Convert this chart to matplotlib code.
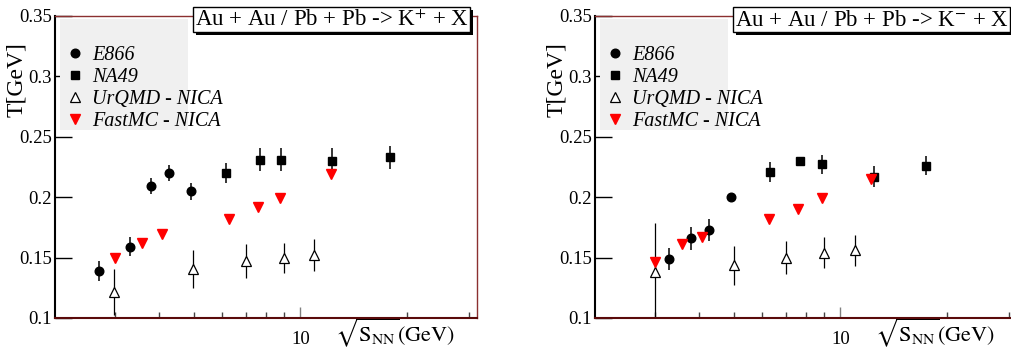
import matplotlib
matplotlib.use("Agg")
import matplotlib.pyplot as plt
from matplotlib.patches import Rectangle
from matplotlib.ticker import FixedLocator, NullFormatter

plt.rcParams["font.family"] = "Liberation Serif"
plt.rcParams["mathtext.fontset"] = "stix"

# ---- K+ (left panel) ----
e866_x_p = [2.70, 3.30, 3.78, 4.25, 4.90]
e866_y_p = [0.139, 0.159, 0.209, 0.220, 0.205]
e866_e_p = [0.008, 0.008, 0.0065, 0.007, 0.007]

na49_x_p = [6.15, 7.67, 8.84, 12.3, 17.9]
na49_y_p = [0.220, 0.231, 0.231, 0.230, 0.233]
na49_e_p = [0.0085, 0.0095, 0.0095, 0.011, 0.0095]

urqmd_x_p = [2.97, 4.97, 7.0, 9.0, 10.95]
urqmd_y_p = [0.1215, 0.1405, 0.147, 0.150, 0.152]
urqmd_e_p = [0.019, 0.016, 0.014, 0.0125, 0.013]

fastmc_x_p = [3.0, 3.57, 4.06, 6.27, 7.57, 8.78, 12.2]
fastmc_y_p = [0.150, 0.1625, 0.1694, 0.1818, 0.192, 0.1994, 0.219]

# ---- K- (right panel) ----
e866_x_m = [3.28, 3.80, 4.25, 4.90]
e866_y_m = [0.1488, 0.166, 0.173, 0.200]
e866_e_m = [0.0088, 0.0094, 0.0093, 0.0]

na49_x_m = [6.31, 7.68, 8.86, 12.4, 17.4]
na49_y_m = [0.221, 0.230, 0.2273, 0.217, 0.226]
na49_e_m = [0.0085, 0.0, 0.008, 0.0085, 0.008]

urqmd_x_m = [2.99, 5.0, 7.0, 9.0, 11.0]
urqmd_y_m = [0.138, 0.1435, 0.150, 0.154, 0.156]
urqmd_e_m = [0.041, 0.016, 0.0135, 0.013, 0.0127]

fastmc_x_m = [3.0, 3.58, 4.08, 6.3, 7.6, 8.85, 12.2]
fastmc_y_m = [0.146, 0.161, 0.167, 0.182, 0.1906, 0.199, 0.215]

W, H = 1012, 351
fig = plt.figure(figsize=(W / 100, H / 100), dpi=100)


def px_rect(x0, y0, x1, y1):
    # pixel box (top-left origin) -> figure fraction
    return [x0 / W, 1 - y1 / H, (x1 - x0) / W, (y1 - y0) / H]


def panel(x_left, title,
          ex, ey, ee, nx, ny, ne, ux, uy, ue, fx, fy):
    ax = fig.add_axes(px_rect(x_left, 16, x_left + 422, 318))
    ax.set_xscale("log")
    ax.set_xlim(2.03, 31.5)
    ax.set_ylim(0.1, 0.35)

    ax.errorbar(ex, ey, yerr=ee, fmt="none", ecolor="black", elinewidth=1.1, capsize=0)
    ax.errorbar(nx, ny, yerr=ne, fmt="none", ecolor="black", elinewidth=1.1, capsize=0)
    ax.errorbar(ux, uy, yerr=ue, fmt="none", ecolor="black", elinewidth=0.9, capsize=0)
    ax.plot(ex, ey, "o", color="black", ms=6.2, ls="none", label="E866")
    ax.plot(nx, ny, "s", color="black", ms=6.0, ls="none", label="NA49")
    ax.plot(ux, uy, "^", mfc="white", mec="black", mew=0.9, ms=7.5, ls="none",
            label="UrQMD - NICA")
    ax.plot(fx, fy, "v", color="red", ms=6.5, ls="none", label="FastMC - NICA")

    ax.xaxis.set_major_locator(FixedLocator([10]))
    ax.xaxis.set_minor_locator(FixedLocator([3, 4, 5, 6, 7, 8, 9, 20, 30]))
    ax.xaxis.set_minor_formatter(NullFormatter())
    ax.set_xticklabels(["10"])
    ax.set_yticks([0.1, 0.15, 0.2, 0.25, 0.3, 0.35])
    ax.set_yticklabels(["0.1", "0.15", "0.2", "0.25", "0.3", "0.35"])
    ax.tick_params(axis="x", which="major", direction="in", length=8, width=1,
                   color="gray", labelsize=13.5, pad=9)
    ax.tick_params(axis="x", which="minor", direction="in", length=4, width=1, color="#444444")
    ax.tick_params(axis="y", which="major", direction="in", length=12, width=1,
                   labelsize=13.5, pad=2)
    ax.tick_params(top=False, right=False)

    ax.spines["left"].set_color("black")
    ax.spines["left"].set_linewidth(1.5)
    ax.spines["bottom"].set_color("#5a0a0a")
    ax.spines["bottom"].set_linewidth(1.5)
    for s in ("top", "right"):
        ax.spines[s].set_color("#8b3030")
        ax.spines[s].set_linewidth(1.0)

    ax.set_ylabel("T[GeV]", fontsize=17)
    ax.yaxis.set_label_coords(-0.066, 0.79)
    ax.set_xlabel(r"$\sqrt{\mathrm{S_{NN}}}\mathrm{(GeV)}$", fontsize=16)
    ax.xaxis.set_label_coords(0.806, -0.104)
    ax.xaxis.label.set_va("bottom")

    # legend background
    fig.patches.append(Rectangle(((x_left + 5) / W, 1 - 130 / H), 128 / W, 111 / H,
                                 transform=fig.transFigure,
                                 facecolor="#f0f0f0", edgecolor="none", zorder=3))
    handles, labels = ax.get_legend_handles_labels()
    leg = fig.legend(handles, labels, loc="upper left",
                     bbox_to_anchor=((x_left + 8) / W, 1 - 46 / H),
                     frameon=False, borderpad=0, borderaxespad=0,
                     handlelength=1.2, handletextpad=0.25, labelspacing=0.15,
                     prop={"style": "italic", "size": 14.5, "family": "Liberation Serif"})
    leg.set_zorder(4)

    # title box with shadow
    tx0, tx1 = x_left + 138, x_left + 415
    fig.patches.append(Rectangle(((tx0 + 3) / W, 1 - 35 / H), (tx1 - tx0) / W, 25 / H,
                                 transform=fig.transFigure, facecolor="black",
                                 edgecolor="none", zorder=5))
    fig.patches.append(Rectangle((tx0 / W, 1 - 32 / H), (tx1 - tx0) / W, 25 / H,
                                 transform=fig.transFigure, facecolor="white",
                                 edgecolor="black", lw=1, zorder=6))
    fig.text((tx0 + tx1) / 2 / W, 1 - 20 / H, title, ha="center", va="center",
             fontsize=16.5, zorder=7)
    return ax


panel(55, r"Au + Au / Pb + Pb -> K$^{+}$ + X",
      e866_x_p, e866_y_p, e866_e_p, na49_x_p, na49_y_p, na49_e_p,
      urqmd_x_p, urqmd_y_p, urqmd_e_p, fastmc_x_p, fastmc_y_p)
panel(595, r"Au + Au / Pb + Pb -> K$^{-}$ + X",
      e866_x_m, e866_y_m, e866_e_m, na49_x_m, na49_y_m, na49_e_m,
      urqmd_x_m, urqmd_y_m, urqmd_e_m, fastmc_x_m, fastmc_y_m)

fig.savefig("out.png", dpi=100)
